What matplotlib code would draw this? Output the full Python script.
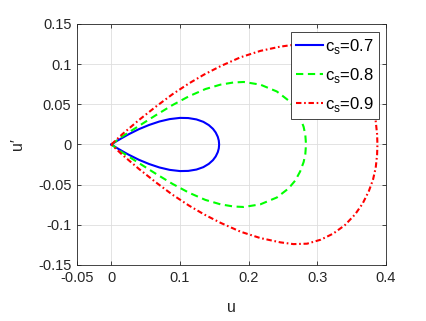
import numpy as np
import matplotlib
matplotlib.use('Agg')
import matplotlib.pyplot as plt

plt.rcParams['font.family'] = ['Liberation Sans', 'DejaVu Sans']
plt.rcParams['mathtext.fontset'] = 'custom'
plt.rcParams['mathtext.rm'] = 'Liberation Sans'
plt.rcParams['axes.unicode_minus'] = False

# upper half of each orbit (u, u'); lower half is the mirror image
u_07 = [0, 0.008, 0.016, 0.025, 0.040, 0.055, 0.070, 0.085, 0.100, 0.112, 0.124,
        0.134, 0.142, 0.148, 0.152, 0.155, 0.1565, 0.157]
up_07 = [0, 0.0043, 0.0083, 0.0126, 0.0190, 0.0243, 0.0286, 0.0316, 0.0331, 0.0329,
         0.0312, 0.0282, 0.0241, 0.0195, 0.0149, 0.0096, 0.0049, 0]

u_08 = [0, 0.016, 0.040, 0.064, 0.089, 0.113, 0.137, 0.159, 0.178, 0.193, 0.217,
        0.241, 0.258, 0.268, 0.275, 0.280, 0.2825, 0.2835]
up_08 = [0, 0.0100, 0.0230, 0.0360, 0.0490, 0.0600, 0.0690, 0.0745, 0.0772, 0.0778,
         0.0745, 0.0660, 0.0548, 0.0447, 0.0335, 0.0220, 0.0120, 0]

u_09 = [0, 0.016, 0.040, 0.065, 0.089, 0.113, 0.135, 0.159, 0.188, 0.217, 0.246,
        0.265, 0.285, 0.305, 0.323, 0.340, 0.355, 0.366, 0.375, 0.381, 0.385, 0.387, 0.3875]
up_09 = [0, 0.0128, 0.0303, 0.0472, 0.0625, 0.0760, 0.0870, 0.0975, 0.1085, 0.1165,
         0.1218, 0.1240, 0.1235, 0.1185, 0.1110, 0.1005, 0.0870, 0.0735, 0.0580,
         0.0440, 0.0290, 0.0130, 0]

labels = ['c$_\\mathregular{s}$=0.7', 'c$_\\mathregular{s}$=0.8', 'c$_\\mathregular{s}$=0.9']
xticks = [-0.05, 0, 0.1, 0.2, 0.3, 0.4]
xticklabels = ['-0.05', '0', '0.1', '0.2', '0.3', '0.4']
yticks = [-0.15, -0.1, -0.05, 0, 0.05, 0.1, 0.15]
yticklabels = ['-0.15', '-0.1', '-0.05', '0', '0.05', '0.1', '0.15']


def closed(u, up):
    u = np.array(u)
    up = np.array(up)
    return np.concatenate([u, u[::-1]]), np.concatenate([up, -up[::-1]])


fig = plt.figure(figsize=(4.27, 3.21), dpi=100)
ax = fig.add_axes([0.1803, 0.1745, 0.7237, 0.7508])

styles = [dict(color=(0, 0, 1), ls='-'),
          dict(color=(0, 1, 0), ls=(0, (3.5, 2.2))),
          dict(color=(1, 0, 0), ls=(0, (2.6, 1.3, 0.8, 1.3)))]
for (u, up), lab, st in zip([(u_07, up_07), (u_08, up_08), (u_09, up_09)], labels, styles):
    x, y = closed(u, up)
    ax.plot(x, y, lw=1.5, label=lab, **st)

ax.set_xlim(-0.05, 0.4)
ax.set_ylim(-0.15, 0.15)
ax.set_xticks(xticks)
ax.set_xticklabels(xticklabels)
ax.set_yticks(yticks)
ax.set_yticklabels(yticklabels)
ax.tick_params(direction='in', length=3, width=0.6, color='#262626',
               labelsize=10.5, labelcolor='#262626', top=True, right=True, pad=4)
for sp in ax.spines.values():
    sp.set_color('#262626')
    sp.set_linewidth(0.6)
ax.grid(True, color='#dedede', lw=0.6)
ax.set_axisbelow(True)

ax.set_xlabel('u', fontsize=11.5, color='#262626', labelpad=11)
ax.set_ylabel('u\u2032', fontsize=11.5, color='#262626', labelpad=9)

leg = ax.legend(loc='upper right', bbox_to_anchor=(0.9775, 0.967), borderaxespad=0,
                fontsize=12, handlelength=1.65, handletextpad=0.1, labelspacing=0.6,
                borderpad=0.3, fancybox=False, framealpha=1, edgecolor='#262626')
leg.get_frame().set_linewidth(0.6)

fig.savefig('out.png', dpi=100)
